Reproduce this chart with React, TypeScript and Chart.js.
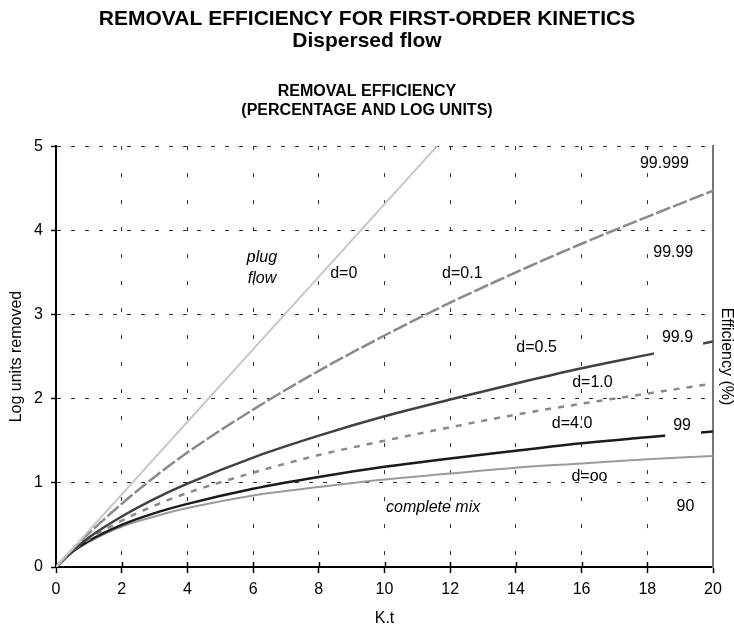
import React, { useEffect, useRef } from 'react';
import { Chart, registerables } from 'chart.js';

Chart.register(...registerables);

// ---- data ----
const KT = [0, 0.5, 1, 2, 3, 4, 6, 8, 10, 12, 14, 16, 18, 20];
const D01 = [0, 0.21, 0.40, 0.75, 1.07, 1.36, 1.87, 2.33, 2.75, 3.14, 3.50, 3.84, 4.16, 4.47];
const D05 = [0, 0.19, 0.35, 0.60, 0.81, 0.99, 1.30, 1.56, 1.79, 1.99, 2.18, 2.36, 2.52, 2.68];
const D10 = [0, 0.19, 0.33, 0.55, 0.73, 0.88, 1.12, 1.33, 1.50, 1.66, 1.81, 1.94, 2.06, 2.18];
const D40 = [0, 0.18, 0.31, 0.50, 0.64, 0.75, 0.93, 1.07, 1.19, 1.29, 1.38, 1.47, 1.54, 1.61];
const MIX = [0, 0.18, 0.30, 0.48, 0.60, 0.70, 0.85, 0.95, 1.04, 1.11, 1.18, 1.23, 1.28, 1.32];
const PLUG_KT = [0, 11.6];
const PLUG = [0, 5.0];

const X_MIN = 0;
const X_MAX = 20;
const X_STEP = 2;
const Y_MIN = 0;
const Y_MAX = 5;
const Y_STEP = 1;

const TITLE = ['REMOVAL EFFICIENCY FOR FIRST-ORDER KINETICS', 'Dispersed flow'];
const SUBTITLE = ['REMOVAL EFFICIENCY', '(PERCENTAGE AND LOG UNITS)'];
const X_TITLE = 'K.t';
const Y_TITLE = 'Log units removed';
const Y2_TITLE = 'Efficiency (%)';

// in-plot notes
const NOTE_TEXT = ['plug', 'flow', 'd=0', 'd=0.1', 'd=0.5', 'd=1.0', 'd=4.0', 'd=oo', 'complete mix'];
const NOTE_X = [6.27, 6.27, 8.76, 12.37, 14.63, 16.33, 15.71, 16.24, 11.48];
const NOTE_Y = [3.68, 3.43, 3.49, 3.49, 2.61, 2.19, 1.70, 1.07, 0.71];
const NOTE_ITALIC = [true, true, false, false, false, false, false, false, true];

// efficiency labels (right side)
const EFF_TEXT = ['99.999', '99.99', '99.9', '99', '90'];
const EFF_X = [18.52, 18.79, 18.92, 19.06, 19.16];
const EFF_Y = [4.79, 3.73, 2.72, 1.68, 0.72];
const EFF_MASK = [false, false, true, true, false];

const FONT = '"Liberation Sans", Arial, Helvetica, sans-serif';

const pts = (xs: number[], ys: number[]) => xs.map((x, i) => ({ x, y: ys[i] }));

const annotationPlugin = {
  id: 'annotations',
  afterDatasetsDraw(chart: any) {
    const { ctx, scales, chartArea } = chart;
    const xs = scales.x;
    const ys = scales.y;
    ctx.save();
    // inner halves of the x tick marks
    ctx.strokeStyle = '#000';
    ctx.lineWidth = 1.5;
    for (let v = X_MIN + X_STEP; v < X_MAX; v += X_STEP) {
      const px = Math.round(xs.getPixelForValue(v)) + 0.5;
      ctx.beginPath();
      ctx.moveTo(px, chartArea.bottom);
      ctx.lineTo(px, chartArea.bottom - 5);
      ctx.stroke();
    }
    ctx.textAlign = 'center';
    ctx.textBaseline = 'middle';
    for (let i = 0; i < NOTE_TEXT.length; i++) {
      ctx.font = `${NOTE_ITALIC[i] ? 'italic ' : ''}16px ${FONT}`;
      ctx.fillStyle = '#000';
      ctx.fillText(NOTE_TEXT[i], xs.getPixelForValue(NOTE_X[i]), ys.getPixelForValue(NOTE_Y[i]));
    }
    ctx.font = `16px ${FONT}`;
    for (let i = 0; i < EFF_TEXT.length; i++) {
      const px = xs.getPixelForValue(EFF_X[i]);
      const py = ys.getPixelForValue(EFF_Y[i]);
      if (EFF_MASK[i]) {
        const w = ctx.measureText(EFF_TEXT[i]).width;
        ctx.fillStyle = '#fff';
        ctx.fillRect(px - w / 2 - 8, py - 19, w + 18, 38);
      }
      ctx.fillStyle = '#000';
      ctx.fillText(EFF_TEXT[i], px, py);
    }
    ctx.restore();
  },
};

export default function App() {
  const ref = useRef<HTMLCanvasElement | null>(null);

  useEffect(() => {
    if (!ref.current) return;
    Chart.defaults.font.family = FONT;
    Chart.defaults.color = '#000';
    const chart = new Chart(ref.current, {
      type: 'line',
      data: {
        datasets: [
          {
            label: 'd=0',
            data: pts(PLUG_KT, PLUG),
            borderColor: '#c8c8c8',
            borderWidth: 2,
            pointRadius: 0,
          },
          {
            label: 'd=0.1',
            data: pts(KT, D01),
            borderColor: '#8a8a8a',
            borderWidth: 2.5,
            borderDash: [15, 3],
            pointRadius: 0,
            cubicInterpolationMode: 'monotone',
          },
          {
            label: 'd=0.5',
            data: pts(KT, D05),
            borderColor: '#404040',
            borderWidth: 2.5,
            pointRadius: 0,
            cubicInterpolationMode: 'monotone',
          },
          {
            label: 'd=1.0',
            data: pts(KT, D10),
            borderColor: '#8a8a8a',
            borderWidth: 2.5,
            borderDash: [6, 7],
            pointRadius: 0,
            cubicInterpolationMode: 'monotone',
          },
          {
            label: 'd=4.0',
            data: pts(KT, D40),
            borderColor: '#1a1a1a',
            borderWidth: 2.5,
            pointRadius: 0,
            cubicInterpolationMode: 'monotone',
          },
          {
            label: 'd=oo',
            data: pts(KT, MIX),
            borderColor: '#9a9a9a',
            borderWidth: 2,
            pointRadius: 0,
            cubicInterpolationMode: 'monotone',
          },
        ],
      },
      options: {
        responsive: false,
        animation: false,
        layout: { padding: 0 },
        plugins: {
          legend: { display: false },
          tooltip: { enabled: false },
          title: {
            display: true,
            text: TITLE,
            color: '#000',
            font: { size: 21, weight: 'bold', lineHeight: 1.05 },
            padding: { top: 8, bottom: 29.4 },
          },
          subtitle: {
            display: true,
            text: SUBTITLE,
            color: '#000',
            font: { size: 16, weight: 'bold', lineHeight: 1.2 },
            padding: { top: 0, bottom: 26.2 },
          },
        },
        scales: {
          x: {
            type: 'linear',
            min: X_MIN,
            max: X_MAX,
            ticks: { stepSize: X_STEP, color: '#000', font: { size: 16 }, padding: 7, maxRotation: 0 },
            grid: { color: '#333', lineWidth: 1, tickLength: 6, tickColor: '#000', tickWidth: 1.5 },
            border: { color: '#000', width: 2, dash: [4, 23] },
            title: { display: true, text: X_TITLE, color: '#000', font: { size: 16, lineHeight: 1.2 }, padding: { top: 0, bottom: 0 } },
            afterFit: (s: any) => { s.height = 61; },
          },
          y: {
            type: 'linear',
            min: Y_MIN,
            max: Y_MAX,
            ticks: { stepSize: Y_STEP, color: '#000', font: { size: 16 }, padding: 8 },
            grid: { color: '#333', lineWidth: 1, tickLength: 5, tickColor: '#000', tickWidth: 1.5 },
            border: { color: '#000', width: 2, dash: [4, 10] },
            title: { display: true, text: Y_TITLE, color: '#000', font: { size: 16, lineHeight: 1.2 }, padding: { top: 7, bottom: 0 } },
            afterFit: (s: any) => { s.width = 56; },
          },
          y1: {
            type: 'linear',
            position: 'right',
            min: Y_MIN,
            max: Y_MAX,
            ticks: { display: false },
            grid: { drawOnChartArea: false, drawTicks: false },
            border: { color: '#777', width: 2 },
            title: { display: true, text: Y2_TITLE, color: '#000', font: { size: 16, lineHeight: 1 }, padding: 0 },
            afterFit: (s: any) => { s.width = 21; },
          },
        },
      },
      plugins: [annotationPlugin],
    } as any);
    return () => chart.destroy();
  }, []);

  return (
    <div style={{ position: 'absolute', left: 0, top: 0, width: 734, height: 628, background: '#fff' }}>
      <canvas ref={ref} width={734} height={628} style={{ display: 'block' }} />
    </div>
  );
}
